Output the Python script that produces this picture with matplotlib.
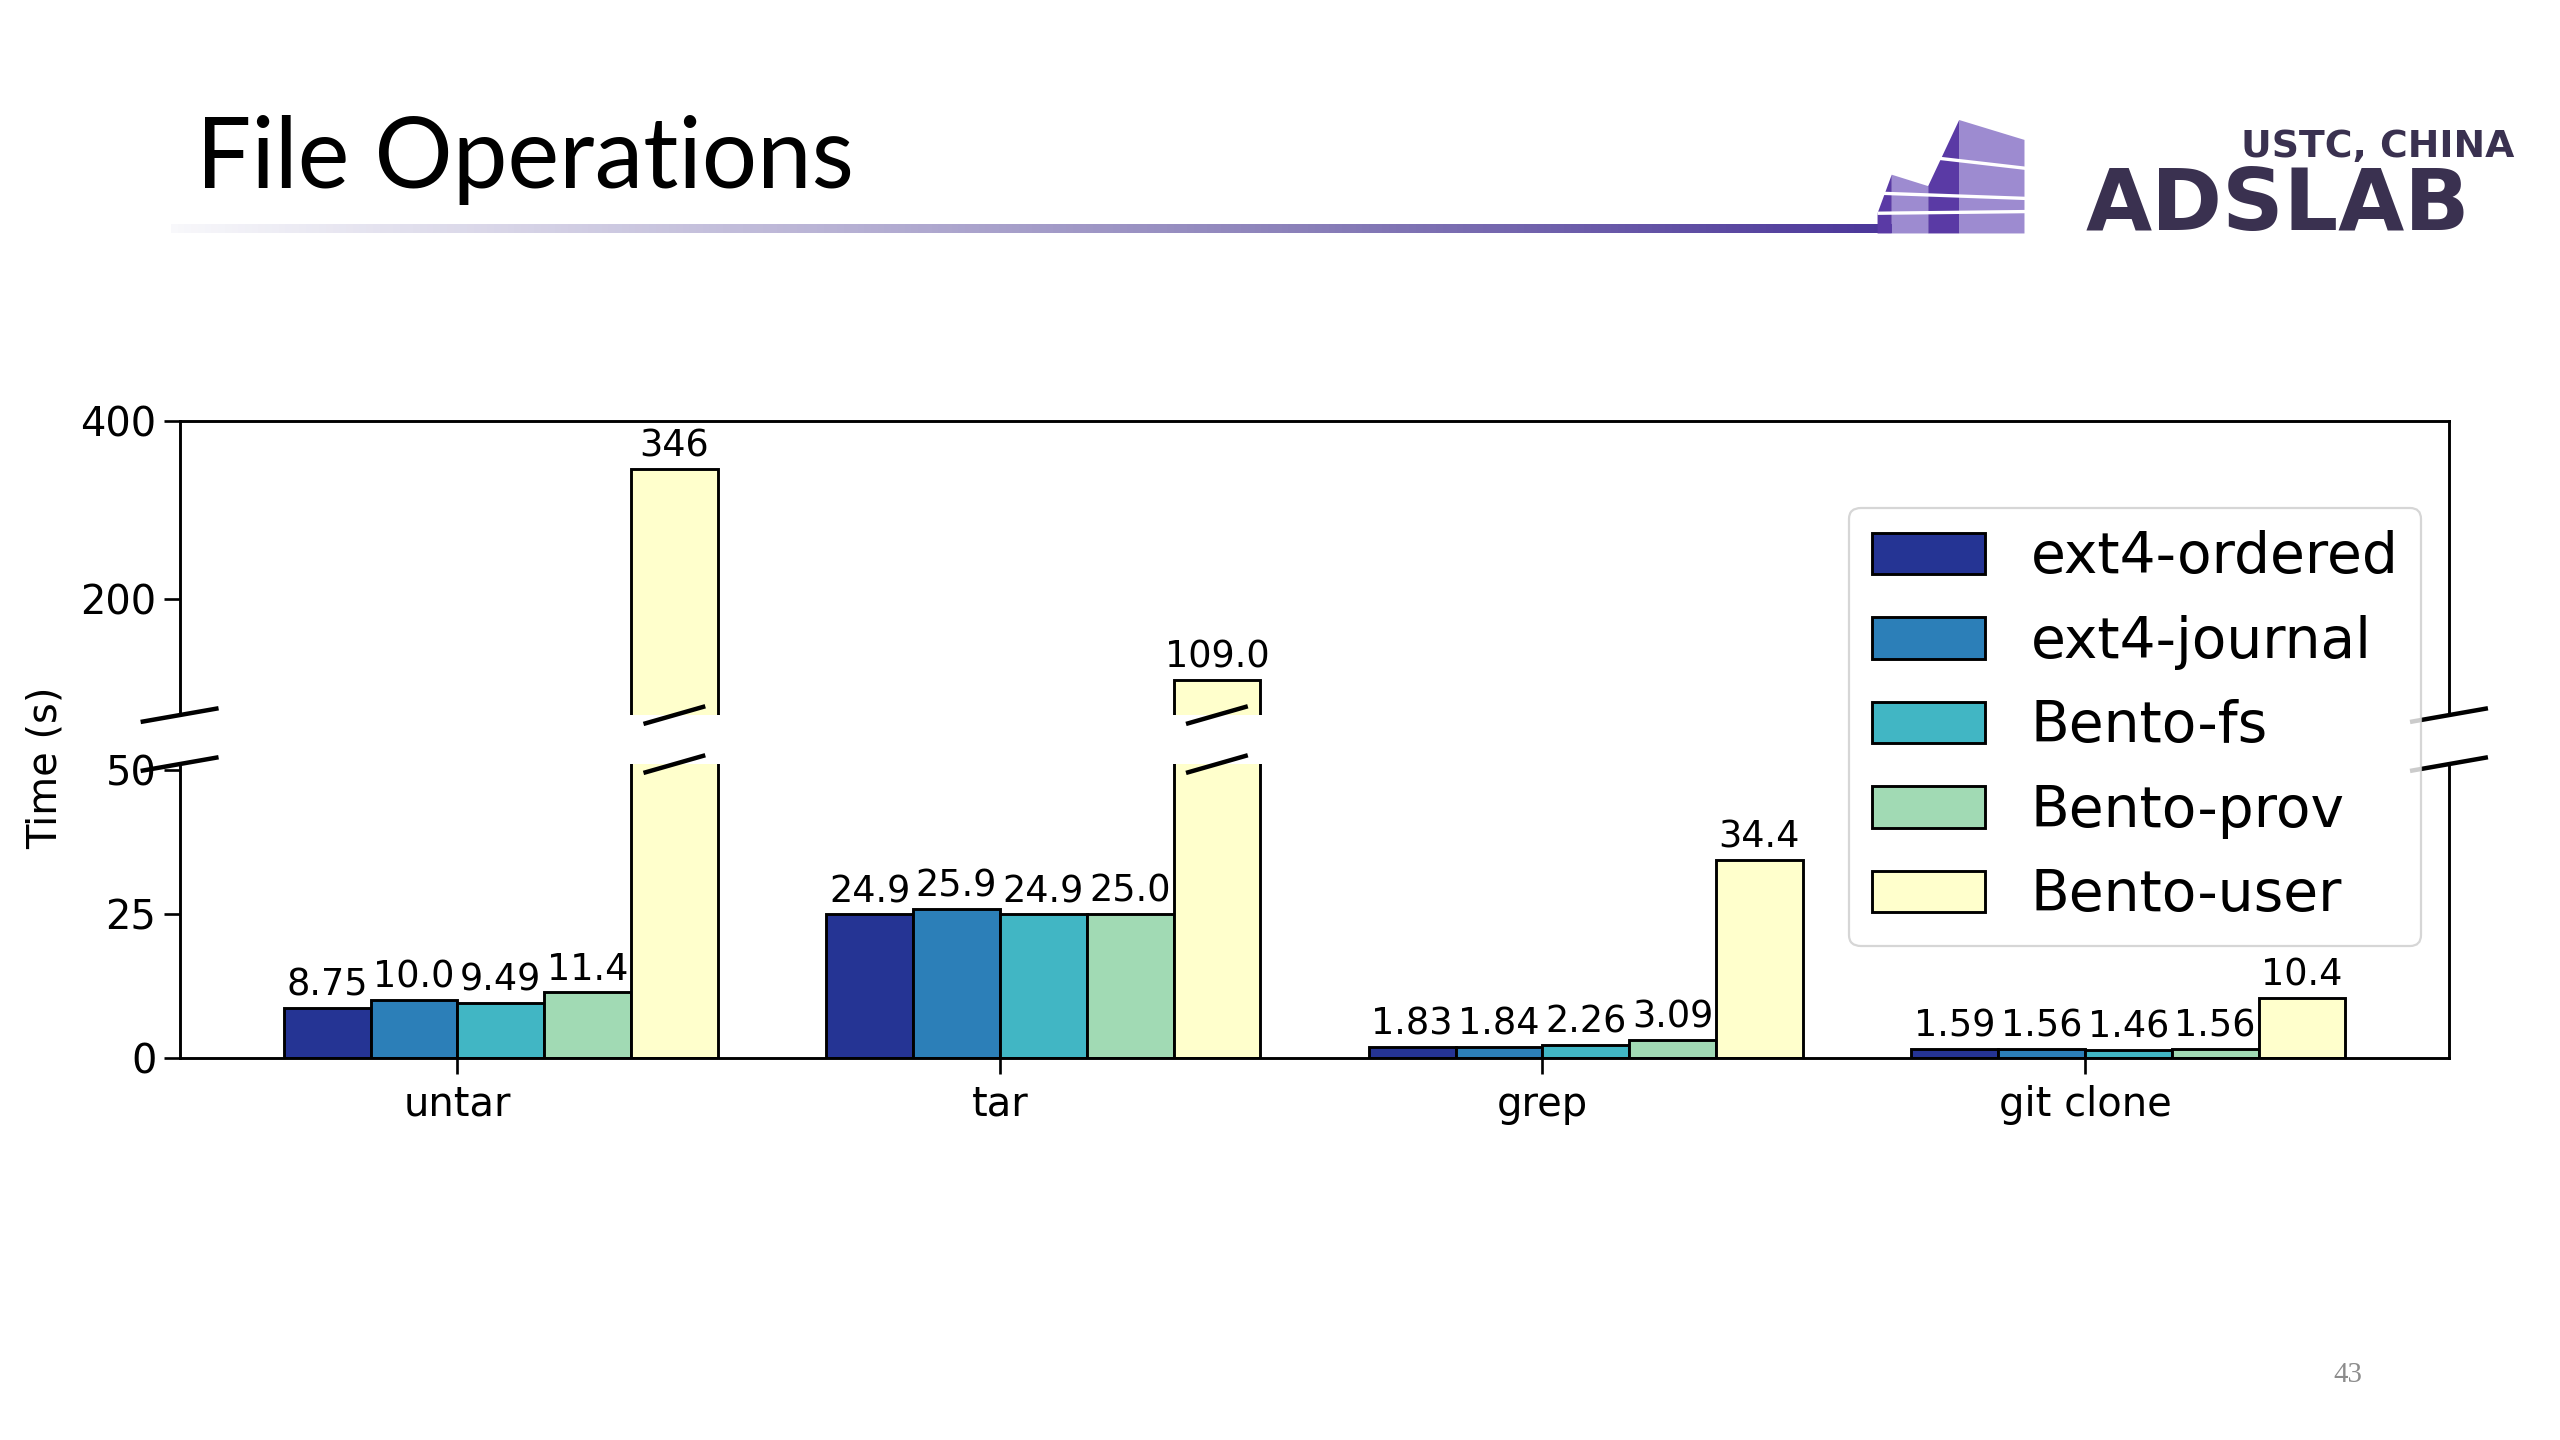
import matplotlib
matplotlib.use("Agg")
import matplotlib.pyplot as plt
import matplotlib.transforms as mtransforms
import numpy as np
from matplotlib.colors import LinearSegmentedColormap
from matplotlib.patches import Polygon

# data
operations = ["untar", "tar", "grep", "git clone"]
systems = ["ext4-ordered", "ext4-journal", "Bento-fs", "Bento-prov", "Bento-user"]
colors = ["#253494", "#2c7fb8", "#41b6c4", "#a1dab4", "#ffffcc"]

ext4_ordered = [8.75, 24.9, 1.83, 1.59]
ext4_journal = [10.0, 25.9, 1.84, 1.56]
bento_fs = [9.49, 24.9, 2.26, 1.46]
bento_prov = [11.4, 25.0, 3.09, 1.56]
bento_user = [346, 109.0, 34.4, 10.4]

series = [ext4_ordered, ext4_journal, bento_fs, bento_prov, bento_user]

# broken axis limits
lo_max = 51
hi_min = 70

# layout is measured on a 1568x882 view of the slide
W, H = 1568.0, 882.0


def fx(x):
    return x / W


def fy(y):
    return 1 - y / H


fig = plt.figure(figsize=(16, 9), dpi=160)
fig.patch.set_facecolor("white")

ax_top = fig.add_axes([fx(110), fy(438), fx(1500) - fx(110), fy(258) - fy(438)])
ax_bot = fig.add_axes([fx(110), fy(648), fx(1500) - fx(110), fy(468) - fy(648)])

x = np.arange(len(operations))
width = 0.16

for ax in (ax_top, ax_bot):
    for i, (name, vals, c) in enumerate(zip(systems, series, colors)):
        ax.bar(x + (i - 2) * width, vals, width, align="edge", color=c,
               edgecolor="black", linewidth=1.3, label=name)

# value labels above bars
for i, vals in enumerate(series):
    for j, v in enumerate(vals):
        ax = ax_top if v > lo_max else ax_bot
        ax.annotate(str(v), (x[j] + (i - 1.5) * width, v), xytext=(0, 2),
                    textcoords="offset points", ha="center", va="bottom",
                    fontsize=16.5)

ax_top.set_ylim(hi_min, 400)
ax_bot.set_ylim(0, lo_max)
for ax in (ax_top, ax_bot):
    for sp in ax.spines.values():
        sp.set_linewidth(1.3)
    ax.tick_params(labelsize=18, length=7, width=1.2, direction="out")

ax_top.spines["bottom"].set_visible(False)
ax_bot.spines["top"].set_visible(False)
ax_top.tick_params(bottom=False, labelbottom=False)
ax_top.set_yticks([200, 400])
ax_bot.set_yticks([0, 25, 50])
ax_bot.set_xticks(x, operations)
ax_bot.tick_params(axis="x", pad=5)

# break marks on the spines
kw = dict(color="black", lw=2, clip_on=False)
d, dy = 0.0162, 0.022
for xs in (0, 1):
    ax_top.plot([xs - d, xs + d], [-dy, dy], transform=ax_top.transAxes, **kw)
    ax_bot.plot([xs - d, xs + d], [1 - dy, 1 + dy], transform=ax_bot.transAxes, **kw)

# break marks on the tall bars
for j, v in enumerate(bento_user):
    if v > hi_min:
        xc = x[j] + 2.5 * width
        for ax, y0 in ((ax_top, 0), (ax_bot, 1)):
            tr = mtransforms.blended_transform_factory(ax.transData, ax.transAxes)
            ax.plot([xc - 0.053, xc + 0.053], [y0 - 0.028, y0 + 0.028], transform=tr, **kw)

ax_top.set_xlim(-0.512, 3.671)
ax_bot.set_xlim(-0.512, 3.671)

fig.text(fx(28), fy(470), "Time (s)", rotation=90, ha="center", va="center", fontsize=18)

handles, labels = ax_bot.get_legend_handles_labels()
fig.legend(handles, labels, loc="upper right", bbox_to_anchor=(fx(1483), fy(311)),
           borderaxespad=0, fontsize=25.5, handlelength=2.0, handleheight=0.75,
           labelspacing=0.52)

# slide header
fig.text(fx(120), fy(115), "File Operations", fontsize=44, family="Lato", va="baseline")

cmap = LinearSegmentedColormap.from_list(
    "bar", [(0, "#f8f8fb"), (0.65, "#8c82ba"), (1, "#4a3599")])
gax = fig.add_axes([fx(105), fy(143), fx(1160) - fx(105), fy(137) - fy(143)])
gax.imshow(np.linspace(0, 1, 512)[None, :], aspect="auto", cmap=cmap)
gax.axis("off")

light, dark = "#9d8bd0", "#5a3aa5"


def fig_poly(pts, color):
    fig.patches.append(Polygon([(fx(a), fy(b)) for a, b in pts], closed=True,
                               transform=fig.transFigure, facecolor=color,
                               edgecolor="none"))


fig_poly([(1200, 73.5), (1240, 85.7), (1240, 143), (1200, 143)], light)
fig_poly([(1200, 73.5), (1181, 114), (1181, 143), (1200, 143)], dark)
fig_poly([(1158.7, 107), (1181, 114), (1181, 143), (1158.7, 143)], light)
fig_poly([(1158.7, 107), (1150, 130.6), (1150, 143), (1158.7, 143)], dark)

for (x0, y0), (x1, y1) in [((1188, 97), (1240, 103)),
                           ((1153, 118.4), (1240, 121.5)),
                           ((1151, 130.6), (1240, 129.6))]:
    fig.add_artist(plt.Line2D([fx(x0), fx(x1)], [fy(y0), fy(y1)],
                              transform=fig.transFigure, color="white", lw=1.5))

fig.text(fx(1395), fy(141), "ADSLAB", ha="center", va="baseline", fontsize=38.5,
         weight="bold", color="#3a3150")
fig.text(fx(1540), fy(96), "USTC, CHINA", ha="right", va="baseline", fontsize=17,
         weight="bold", color="#3a3150")

fig.text(fx(1438), fy(842), "43", ha="center", va="center", fontsize=13,
         color="#8c8c8c", family="Liberation Serif")

fig.savefig("out.png", dpi=160)
